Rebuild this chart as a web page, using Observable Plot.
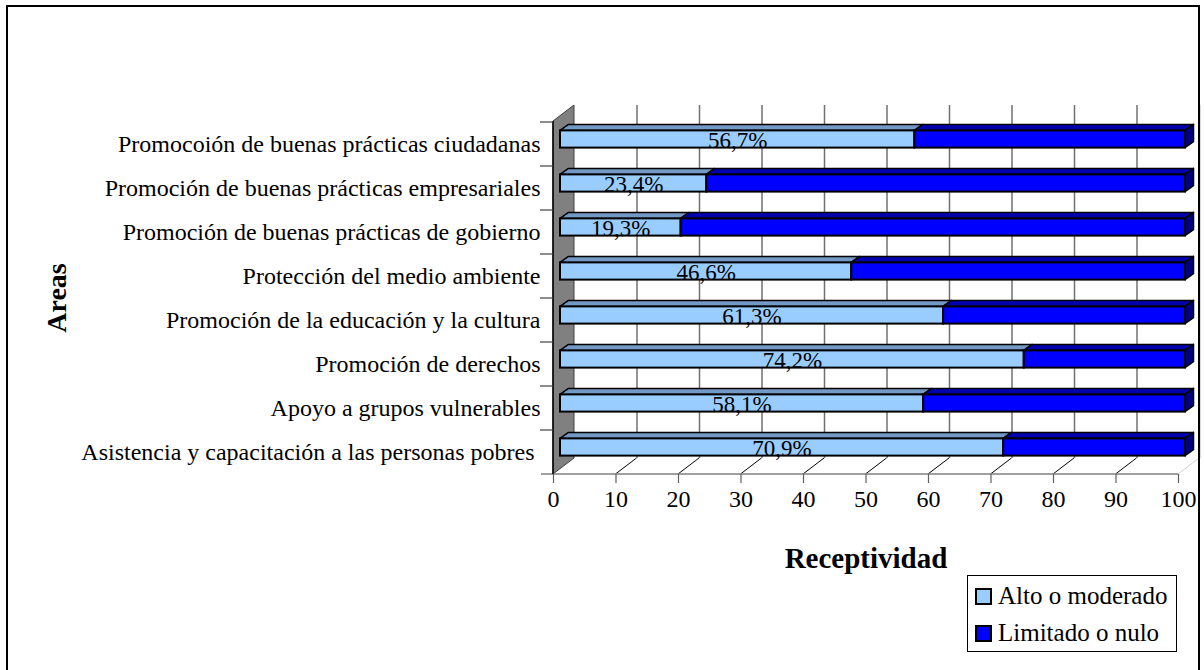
<!DOCTYPE html>
<html>
<head>
<meta charset="utf-8">
<script src="https://cdn.jsdelivr.net/npm/d3@7"></script>
<script src="https://cdn.jsdelivr.net/npm/@observablehq/plot@0.6"></script>
<style>
  html, body { margin: 0; padding: 0; background: #fff; }
  #wrap { position: relative; width: 1204px; height: 670px; overflow: hidden; font-family: "Liberation Serif", "Times New Roman", serif; }
  #border { position: absolute; left: 6px; top: 5px; width: 1194px; height: 680px; border: 2px solid #000; box-sizing: border-box; pointer-events: none; }
  #legend { position: absolute; left: 967px; top: 575px; width: 210px; height: 77px; border: 1px solid #000; box-sizing: border-box; background: #fff; font-size: 25px; }
  #legend .item { position: absolute; left: 7px; display: flex; align-items: center; white-space: nowrap; }
  #legend .sw { width: 13px; height: 13px; border: 2px solid #000; margin-right: 6px; }
</style>
</head>
<body>
<div id="wrap">
  <div id="chart"></div>
  <div id="border"></div>
  <div id="legend"></div>
</div>
<script>
// ---- data ----
const categories = [
  "Promocoión de buenas prácticas ciudadanas",
  "Promoción de buenas prácticas empresariales",
  "Promoción de buenas prácticas de gobierno",
  "Protección del medio ambiente",
  "Promoción de la educación y la cultura",
  "Promoción de derechos",
  "Apoyo a grupos vulnerables",
  "Asistencia y capacitación a las personas pobres\u00A0"
];
const altoModerado = [56.7, 23.4, 19.3, 46.6, 61.3, 74.2, 58.1, 70.9];
const limitadoNulo = [43.3, 76.6, 80.7, 53.4, 38.7, 25.8, 41.9, 29.1];
const seriesNames = ["Alto o moderado", "Limitado o nulo"];
const xTicks = [0, 10, 20, 30, 40, 50, 60, 70, 80, 90, 100];

// ---- styling ----
const frontColors = ["#99CCFF", "#0000FF"];
const topColors = ["#7399C4", "#0000B0"];
const endColor = "#000080";
const BAR_INSET = 13.4;          // front face inset inside band
const FRONT = {dx: 7, dy: -5};   // bar front face offset into depth
const BDEPTH = {dx: 8.5, dy: -6};// bar depth
const WALL = {dx: 21, dy: -16};  // full depth

const rows = categories.flatMap((c, i) => [
  {area: c, serie: seriesNames[0], value: altoModerado[i]},
  {area: c, serie: seriesNames[1], value: limitadoNulo[i]}
]);

const fmt = v => v.toFixed(1).replace(".", ",") + "%";
const svgNS = "http://www.w3.org/2000/svg";
function el(tag, attrs) {
  const e = document.createElementNS(svgNS, tag);
  for (const k in attrs) e.setAttribute(k, attrs[k]);
  return e;
}

// back wall (left side) + floor diagonals + axis lines
function wallMark(index, scales, values, dims) {
  const g = el("g", {});
  const x0 = scales.x(0);
  const yT = dims.marginTop, yB = dims.height - dims.marginBottom;
  g.appendChild(el("polygon", {
    points: `${x0},${yT} ${x0 + WALL.dx},${yT + WALL.dy} ${x0 + WALL.dx},${yB + WALL.dy} ${x0},${yB}`,
    fill: "#808080", stroke: "#404040", "stroke-width": 1
  }));
  for (const t of xTicks.slice(1)) {
    const x = scales.x(t);
    g.appendChild(el("line", {
      x1: x, y1: yB, x2: x + WALL.dx, y2: yB + WALL.dy,
      stroke: t === 100 ? "#d0d0d0" : "#000", "stroke-width": 1
    }));
  }
  // floor front edge
  g.appendChild(el("line", {x1: x0 - 12, y1: yB, x2: scales.x(100), y2: yB, stroke: "#808080", "stroke-width": 1.5}));
  // left vertical axis line
  g.appendChild(el("line", {x1: x0, y1: yT, x2: x0, y2: yB, stroke: "#000", "stroke-width": 1.5}));
  // category boundary ticks
  for (const c of categories) {
    const y = scales.y(c);
    g.appendChild(el("line", {x1: x0 - 13, y1: y, x2: x0, y2: y, stroke: "#404040", "stroke-width": 1.2}));
  }
  return g;
}

// 3D top & end faces of bars
function bar3d(index, scales, values) {
  const g = el("g", {});
  for (const i of index) {
    const x1 = values.x1[i] + FRONT.dx, x2 = values.x2[i] + FRONT.dx;
    const yT = values.y[i] + BAR_INSET + FRONT.dy;
    const s = seriesNames.indexOf(rows[i].serie);
    g.appendChild(el("polygon", {
      points: `${x1},${yT} ${x2},${yT} ${x2 + BDEPTH.dx},${yT + BDEPTH.dy} ${x1 + BDEPTH.dx},${yT + BDEPTH.dy}`,
      fill: topColors[s], stroke: "#000", "stroke-width": 1.5, "stroke-linejoin": "round"
    }));
    if (s === seriesNames.length - 1) {
      const bw = scales.y.bandwidth ? scales.y.bandwidth() : (scales.scales && scales.scales.y.bandwidth);
      const h = bw - 2 * BAR_INSET;
      g.appendChild(el("polygon", {
        points: `${x2},${yT} ${x2 + BDEPTH.dx},${yT + BDEPTH.dy} ${x2 + BDEPTH.dx},${yT + BDEPTH.dy + h} ${x2},${yT + h}`,
        fill: endColor, stroke: "#000", "stroke-width": 1.5, "stroke-linejoin": "round"
      }));
    }
  }
  return g;
}

const chart = Plot.plot({
  width: 1204,
  height: 670,
  marginLeft: 553,
  marginRight: 26,
  marginTop: 121,
  marginBottom: 196,
  style: {fontFamily: "'Liberation Serif', 'Times New Roman', serif", fontSize: "24px", color: "#000", background: "transparent", overflow: "visible"},
  x: {domain: [0, 100]},
  y: {domain: categories, padding: 0},
  color: {domain: seriesNames, range: frontColors},
  marks: [
    wallMark,
    Plot.ruleX(xTicks.slice(1), {dx: WALL.dx, dy: WALL.dy, stroke: "#707070", strokeWidth: 1.5}),
    Plot.axisX({ticks: xTicks, tickSize: 9, tickPadding: 6, tickFormat: d => String(d), stroke: "#606060", strokeWidth: 1.2, fontSize: 24, label: null}),
    Plot.axisY({tickSize: 0, tickPadding: 13, fontSize: 24, label: null}),
    Plot.barX(rows, {x: "value", y: "area", fill: "serie", render: bar3d}),
    Plot.barX(rows, {x: "value", y: "area", fill: "serie", stroke: "#000", strokeWidth: 2, insetTop: BAR_INSET, insetBottom: BAR_INSET, dx: FRONT.dx, dy: FRONT.dy}),
    Plot.text(rows.filter(d => d.serie === seriesNames[0]), {
      x: d => d.value / 2, y: "area", text: d => fmt(d.value),
      dx: FRONT.dx, dy: FRONT.dy + 1, fontSize: 23, fill: "#000"
    }),
    Plot.text(["Areas"], {frameAnchor: "left", dx: -496, rotate: -90, textAnchor: "middle", lineAnchor: "middle", fontWeight: "bold", fontSize: 28}),
    Plot.text(["Receptividad"], {frameAnchor: "bottom", dy: 84, textAnchor: "middle", lineAnchor: "middle", fontWeight: "bold", fontSize: 29})
  ]
});
document.getElementById("chart").appendChild(chart);

// legend
const legend = document.getElementById("legend");
seriesNames.forEach((name, i) => {
  const item = document.createElement("div");
  item.className = "item";
  item.style.top = (i === 0 ? 6 : 43) + "px";
  const sw = document.createElement("div");
  sw.className = "sw";
  sw.style.background = frontColors[i];
  const t = document.createElement("span");
  t.textContent = name;
  item.appendChild(sw);
  item.appendChild(t);
  legend.appendChild(item);
});
</script>
</body>
</html>
